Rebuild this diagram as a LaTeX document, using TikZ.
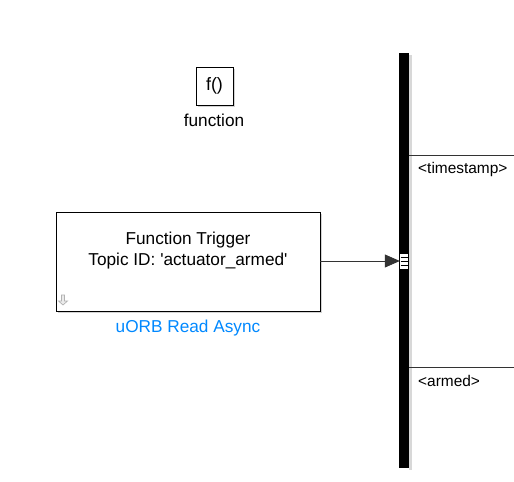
\documentclass[tikz,border=0pt]{standalone}
\usepackage{fontspec}
\setmainfont{Liberation Sans}
\usetikzlibrary{arrows.meta,shadows}
\definecolor{linkblue}{RGB}{0,136,255}
\definecolor{shadowgrey}{RGB}{200,200,200}
\tikzset{
  blockbox/.style={draw=black, line width=0.9bp, fill=white, inner sep=0pt,
    drop shadow={shadow xshift=2bp, shadow yshift=-2bp, fill=shadowgrey, opacity=0.8}},
  lbl/.style={font=\fontsize{17.3}{20}\selectfont, inner sep=0pt},
  siglbl/.style={font=\fontsize{15.5}{18}\selectfont, inner sep=0pt, anchor=west},
  sigline/.style={draw=black!80, line width=0.8bp},
}
\begin{document}
\begin{tikzpicture}[x=1bp,y=-1bp]
\useasboundingbox (0,0) rectangle (514,482);
% function block
\node[blockbox, minimum width=37bp, minimum height=38bp] (fblk) at (214.5,86) {};
\node[lbl, font=\fontsize{18}{20}\selectfont] (ftxt) at (214.5,86) {f()};
\node[lbl] (flbl) at (214,120) {function};
% uORB block
\node[blockbox, minimum width=264bp, minimum height=99bp] (ublk) at (188,261.5) {};
\node[lbl, align=center, font=\fontsize{17.3}{21}\selectfont] (utxt) at (188,251) {Function Trigger\\Topic ID: \textquotesingle actuator\_armed\textquotesingle};
\coordinate (uicon) at (63,300);
\draw[black!30, line width=0.7bp, fill=black!8] ([xshift=-1.5bp,yshift=5bp]uicon) -- ([xshift=-1.5bp,yshift=-1bp]uicon)
  -- ([xshift=-4.5bp,yshift=-1bp]uicon) -- ([xshift=0bp,yshift=-5bp]uicon) -- ([xshift=4.5bp,yshift=-1bp]uicon)
  -- ([xshift=1.5bp,yshift=-1bp]uicon) -- ([xshift=1.5bp,yshift=5bp]uicon) -- cycle;
\node[lbl, text=linkblue] (ulbl) at (188,328) {uORB Read Async};
% bus
\fill[shadowgrey!70] (409,55) rectangle (412,470);
\node[fill=black, draw=none, minimum width=10bp, minimum height=415bp, inner sep=0pt] (bus) at (404,260.5) {};
\node[fill=white, draw=none, minimum width=8bp, minimum height=15bp, inner sep=0pt] (bport) at (404,261) {};
\draw[black, line width=0.6bp] (400.5,257.5) -- (407.5,257.5)
  (400.5,261.5) -- (407.5,261.5) (400.5,265) -- (407.5,265);
% connector into bus
\coordinate (busin) at (bport.west);
\draw[sigline, -{Triangle[length=15bp, width=13bp]}] (ublk.east |- 0,261) -- (busin);
% outgoing signals
\coordinate (ts) at (514,155);
\coordinate (ar) at (514,367);
\draw[sigline] (bus.east |- ts) -- (ts);
\draw[sigline] (bus.east |- ar) -- (ar);
\node[siglbl] (tslbl) at (418,170) {<timestamp>};
\node[siglbl] (arlbl) at (418,381) {<armed>};
\end{tikzpicture}
\end{document}
